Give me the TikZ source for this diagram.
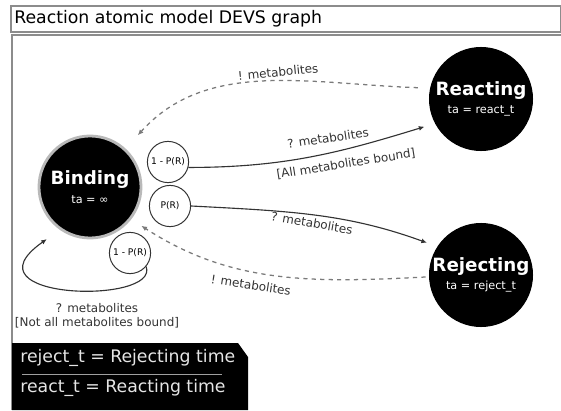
\documentclass[tikz,border=0pt]{standalone}
\usepackage{fontspec}
\setmainfont{DejaVu Sans}
\usetikzlibrary{arrows.meta}

\definecolor{ink}{HTML}{333333}
\definecolor{dashgray}{HTML}{7A7A7A}
\definecolor{framegray}{HTML}{8C8C8C}

\newcommand{\stname}[1]{{\fontsize{13}{14}\selectfont\bfseries #1}}
\newcommand{\stta}[1]{{\fontsize{8}{9}\selectfont ta = #1}}

\begin{document}
\begin{tikzpicture}[
  x=0.025cm, y=0.025cm,
  state/.style={circle,fill=black,text=white,align=center,inner sep=0pt,minimum size=2.6cm},
  choice/.style={circle,draw=ink,line width=0.7pt,fill=white,inner sep=0pt,minimum size=1.03cm,font=\fontsize{6.5}{7}\selectfont},
  lbl/.style={text=ink,font=\fontsize{8.5}{10}\selectfont,inner sep=0pt,align=center},
  send/.style={dashgray,line width=0.9pt,dash pattern=on 3pt off 3pt,-{Latex[length=4pt,width=3.5pt]}},
  recv/.style={ink,line width=0.8pt,-{Latex[length=4pt,width=3.5pt]}}
]
\useasboundingbox (0,0) rectangle (561,410);

% frame and title
\draw[framegray,line width=0.8pt] (12,0) -- (12,375) -- (561,375);
\draw[framegray,line width=0.8pt] (11,378) rectangle (561,404);
\node[anchor=west,inner sep=0pt,font=\fontsize{12.3}{14}\selectfont] (title) at (14,391) {Reaction atomic model DEVS graph};

% states
\node[state,draw=gray!55,line width=2pt,minimum size=2.55cm] (bind) at (90,223) {\stname{Binding}\\[1pt]\stta{∞}};
\node[state] (react) at (481,311) {\stname{Reacting}\\[1pt]\stta{react\_t}};
\node[state] (rej) at (481,135) {\stname{Rejecting}\\[1pt]\stta{reject\_t}};

% probabilities
\node[choice] (p1) at (168,248) {1 - P(R)};
\node[choice] (p2) at (170,204) {P(R)};
\node[choice] (p3) at (130,157) {1 - P(R)};

% transitions
\draw[send,shorten <=0.3cm,shorten >=0.45cm] (react.168) to[out=178,in=48] (bind.47);
\draw[recv,shorten >=0.27cm] (p1.-15) to[out=0,in=197] (react.208);
\draw[recv,shorten >=0.27cm] (p2.0) to[out=-3,in=160] (rej.147);
\draw[send,shorten <=0.08cm,shorten >=0.3cm] (rej.182) to[out=183,in=-33] (bind.-38);
\draw[recv,shorten >=0.4cm] (p3.-40) .. controls (160,105) and (-40,110) .. (bind.235);

% labels
\node[lbl,rotate=5.5] (l1) at (278,338) {! metabolites};
\node[lbl,rotate=8.5] (l2) at (328,272) {? metabolites};
\node[lbl,rotate=9] (l3) at (346,246) {[All metabolites bound]};
\node[lbl,rotate=-10] (l4) at (312,187) {? metabolites};
\node[lbl,rotate=-9] (l5) at (251,125) {! metabolites};
\node[lbl] (l6) at (97,94) {? metabolites\\{}[Not all metabolites bound]};

% legend
\fill[black] (12,0) -- (12,67) -- (238,67) -- (248,53) -- (248,0) -- cycle;
\draw[gray!75,line width=0.4pt] (22,36) -- (222,36);
\node[anchor=west,inner sep=0pt,text=gray!20,font=\fontsize{12.3}{14}\selectfont] (leg1) at (20,52) {reject\_t = Rejecting time};
\node[anchor=west,inner sep=0pt,text=gray!20,font=\fontsize{12.3}{14}\selectfont] (leg2) at (20,22) {react\_t = Reacting time};
\end{tikzpicture}
\end{document}
